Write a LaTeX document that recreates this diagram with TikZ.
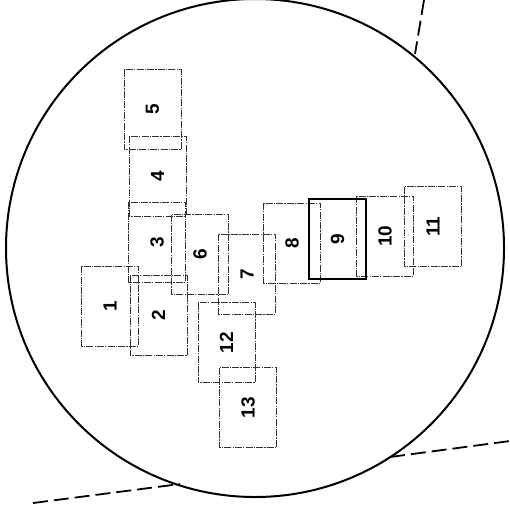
\documentclass[tikz,border=0pt]{standalone}
\usepackage{fontspec}
\setmainfont{Liberation Sans}
\usetikzlibrary{calc}

\tikzset{
  slip/.style={draw=black!80, line width=0.8pt,
    dash pattern=on 7pt off 1.2pt on 1.2pt off 1.2pt,
    rotate=90, minimum width=80pt, minimum height=57pt, inner sep=0pt,
    font=\fontsize{19}{19}\selectfont\bfseries},
  chosen/.style={slip, draw=black, line width=2.2pt, solid},
  edge/.style={line width=1.8pt, dash pattern=on 15pt off 6pt}
}

\begin{document}
\begin{tikzpicture}[x=1pt, y=-1pt]
    \useasboundingbox (0,0) rectangle (510,504);
    % ---- the big circle
    \node[draw, circle, line width=2pt, minimum size=498pt, inner sep=0pt] (disc) at (255,248) {};
    % ---- cut lines, only outside the circle
    \coordinate (t0) at (424,0);
    \coordinate (t1) at (415,54);
    \coordinate (l0) at (33,503);
    \coordinate (l1) at (180,484);
    \coordinate (r0) at (390,457);
    \coordinate (r1) at (510,441);
    \draw[edge] (t0) -- (t1);
    \draw[edge] (l0) -- (l1);
    \draw[edge] (r0) -- (r1);
    % ---- the numbered pieces
    \foreach \n/\x/\y in {5/152.5/109.5, 4/157.5/176, 3/157/242, 1/110/306,
                          2/158.5/315.5, 6/200/254.5, 7/247/274, 8/292/243,
                          10/385/236, 11/433/226.5, 12/226.5/342.5, 13/248/407.5}
      { \node[slip] (p\n) at (\x,\y) {\n}; }
    \node[chosen] (p9) at (337.5,239) {9};
\end{tikzpicture}
\end{document}
